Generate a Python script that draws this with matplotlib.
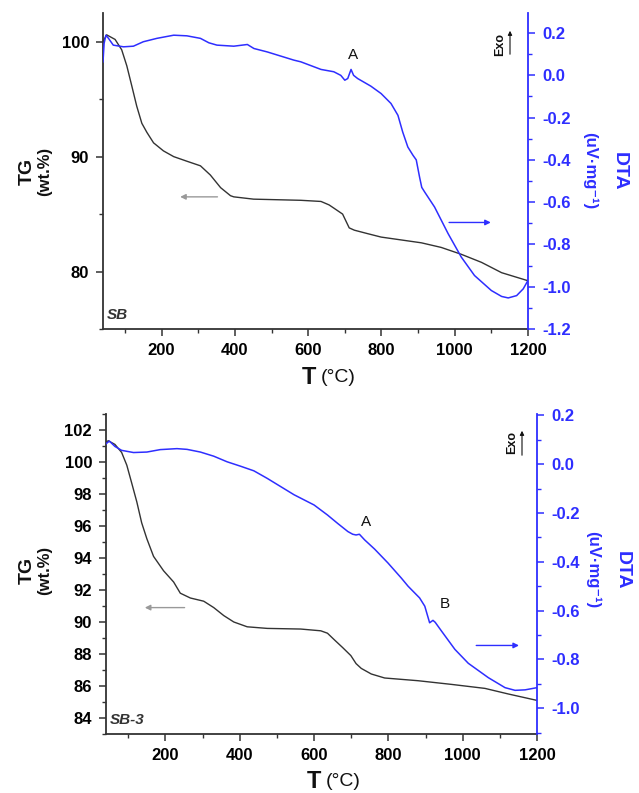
import matplotlib
matplotlib.use("Agg")
import matplotlib.pyplot as plt
from matplotlib.ticker import MultipleLocator, FormatStrFormatter

plt.rcParams['font.family'] = ['Liberation Sans', 'DejaVu Sans']
plt.rcParams['axes.unicode_minus'] = False

# ---------------- data: panel SB ----------------
sb_tg_T = [40, 50, 73, 91, 105, 119, 132, 146, 160, 178, 205, 233, 269, 306, 333, 361, 388, 397, 451,
           580, 635, 657, 671, 694, 703, 712, 726, 762, 799, 909, 963, 1018, 1073, 1128, 1200]
sb_tg = [100.0, 100.6, 100.2, 99.3, 97.9, 96.1, 94.4, 92.9, 92.1, 91.2, 90.5, 90.0, 89.6, 89.2, 88.4,
         87.3, 86.6, 86.5, 86.3, 86.2, 86.1, 85.8, 85.5, 85.0, 84.4, 83.8, 83.6, 83.3, 83.0, 82.5, 82.1,
         81.5, 80.8, 79.9, 79.2]
sb_dta_T = [40, 43, 48, 55, 68, 96, 123, 150, 187, 233, 269, 306, 329, 351, 397, 434, 452, 488, 561, 580,
            635, 670, 689, 700, 708, 717, 724, 735, 771, 799, 826, 845, 858, 872, 886, 895, 904, 910, 918,
            945, 982, 1018, 1054, 1100, 1128, 1146, 1169, 1187, 1200]
sb_dta = [0.064, 0.151, 0.19, 0.175, 0.143, 0.135, 0.138, 0.159, 0.175, 0.19, 0.187, 0.175, 0.154, 0.143,
          0.138, 0.146, 0.127, 0.111, 0.072, 0.064, 0.028, 0.017, 0.0, -0.023, -0.015, 0.028, 0.0, -0.015,
          -0.051, -0.086, -0.133, -0.189, -0.268, -0.339, -0.378, -0.40, -0.481, -0.53, -0.552, -0.623,
          -0.749, -0.86, -0.947, -1.018, -1.046, -1.053, -1.042, -1.01, -0.97]

# ---------------- data: panel SB-3 ----------------
sb3_tg_T = [40, 46, 64, 82, 96, 109, 123, 136, 150, 168, 195, 222, 240, 267, 303, 330, 357, 384, 420, 474,
            564, 618, 636, 654, 677, 699, 713, 727, 754, 790, 880, 970, 1060, 1123, 1200]
sb3_tg = [101.23, 101.33, 101.1, 100.6, 99.8, 98.7, 97.5, 96.2, 95.2, 94.1, 93.2, 92.5, 91.8, 91.5, 91.3,
          90.9, 90.4, 90.0, 89.7, 89.6, 89.56, 89.45, 89.3, 88.9, 88.4, 87.9, 87.4, 87.1, 86.75, 86.5,
          86.33, 86.1, 85.85, 85.5, 85.1]
sb3_dta_T = [40, 49, 64, 82, 114, 150, 186, 231, 258, 294, 330, 366, 402, 438, 474, 546, 600, 636, 663,
             691, 704, 713, 722, 736, 763, 799, 835, 853, 862, 884, 898, 911, 920, 926, 943, 979, 1015, 1069,
             1114, 1141, 1168, 1200]
sb3_dta = [0.084, 0.095, 0.073, 0.057, 0.048, 0.05, 0.06, 0.064, 0.061, 0.05, 0.033, 0.01, -0.008, -0.027,
           -0.058, -0.125, -0.167, -0.208, -0.242, -0.276, -0.287, -0.29, -0.287, -0.31, -0.348, -0.405,
           -0.467, -0.50, -0.514, -0.548, -0.582, -0.65, -0.64, -0.648, -0.684, -0.759, -0.816, -0.875,
           -0.916, -0.927, -0.925, -0.916]

BLUE = '#2e2eff'
DARK = '#333333'
W, H = 639, 793

fig = plt.figure(figsize=(W / 100, H / 100), dpi=100)


def px_rect(l, t, r, b):
    return [l / W, 1 - b / H, (r - l) / W, (b - t) / H]


def make_panel(rect, T_tg, tg, T_dta, dta, tg_lim, tg_major, tg_minor, dta_lim, name):
    ax1 = fig.add_axes(rect)
    ax2 = ax1.twinx()
    ax1.plot(T_tg, tg, color=DARK, lw=1.0, solid_joinstyle='round')
    ax2.plot(T_dta, dta, color=BLUE, lw=1.1, solid_joinstyle='round')
    ax1.set_xlim(40, 1200)
    ax1.set_ylim(*tg_lim)
    ax2.set_ylim(*dta_lim)
    ax1.xaxis.set_major_locator(MultipleLocator(200))
    ax1.xaxis.set_minor_locator(MultipleLocator(100))
    ax1.yaxis.set_major_locator(MultipleLocator(tg_major))
    ax1.yaxis.set_minor_locator(MultipleLocator(tg_minor))
    ax2.yaxis.set_major_locator(MultipleLocator(0.2))
    ax2.yaxis.set_minor_locator(MultipleLocator(0.1))
    ax2.yaxis.set_major_formatter(FormatStrFormatter('%.1f'))
    for a in (ax1, ax2):
        a.spines['top'].set_visible(False)
    ax2.spines['left'].set_visible(False)
    ax2.spines['bottom'].set_visible(False)
    ax1.spines['right'].set_visible(False)
    ax1.spines['left'].set_color(DARK)
    ax1.spines['bottom'].set_color(DARK)
    ax1.spines['left'].set_linewidth(1.3)
    ax1.spines['bottom'].set_linewidth(1.3)
    ax2.spines['right'].set_color(BLUE)
    ax2.spines['right'].set_linewidth(1.3)
    ax1.tick_params(which='major', direction='out', length=5, width=1.1, color=DARK, pad=5,
                    labelsize=12)
    ax1.tick_params(which='minor', direction='out', length=3, width=1.0, color=DARK)
    ax1.tick_params(axis='x', top=False)
    ax2.tick_params(which='major', direction='out', length=5, width=1.1, color=BLUE,
                    labelcolor=BLUE, pad=5, labelsize=12)
    ax2.tick_params(which='minor', direction='out', length=3, width=1.0, color=BLUE)
    for lab in ax1.get_xticklabels() + ax1.get_yticklabels() + ax2.get_yticklabels():
        lab.set_fontweight('bold')
    ax1.text(0.01, 0.022, name, transform=ax1.transAxes, fontsize=11, fontweight='bold',
             fontstyle='italic', color=DARK, ha='left', va='bottom')
    return ax1, ax2


def side_labels(yc, x_tg, x_wt, x_unit, x_dta, y_xl, x_T, x_C):
    fig.text(x_tg / W, 1 - yc / H, 'TG', rotation=90, fontsize=14, fontweight='bold',
             ha='center', va='center', color='#111111')
    fig.text(x_wt / W, 1 - yc / H, '(wt.%)', rotation=90, fontsize=12, fontweight='bold',
             ha='center', va='center', color='#111111')
    fig.text(x_dta / W, 1 - yc / H, 'DTA', rotation=270, fontsize=14, fontweight='bold',
             ha='center', va='center', color=BLUE)
    fig.text(x_unit / W, 1 - yc / H, '(uV·mg⁻¹)', rotation=270, fontsize=12, fontweight='bold',
             ha='center', va='center', color=BLUE)
    fig.text(x_T / W, 1 - y_xl / H, 'T', fontsize=17, fontweight='bold', ha='left', va='center',
             color='#111111')
    fig.text(x_C / W, 1 - y_xl / H, '(°C)', fontsize=14, ha='left', va='center', color='#111111')


def exo(xt, yt, xa, ya0, ya1):
    fig.text(xt / W, 1 - yt / H, 'Exo', rotation=90, fontsize=9, fontweight='bold',
             ha='center', va='center', color='#111111')
    fig.add_artist(matplotlib.patches.FancyArrowPatch(
        (xa / W, 1 - ya0 / H), (xa / W, 1 - ya1 / H), transform=fig.transFigure,
        arrowstyle='-|>', mutation_scale=6, lw=0.8, color='#111111'))


# ---- top panel (SB)
a1, a2 = make_panel(px_rect(103, 13, 528, 329), sb_tg_T, sb_tg, sb_dta_T, sb_dta,
                    (75, 102.5), 10, 5, (-1.2, 0.295), 'SB')
a1.annotate('', xy=(243, 86.5), xytext=(360, 86.5),
            arrowprops=dict(arrowstyle='-|>', color='#999999', lw=1.0, mutation_scale=8))
a2.annotate('', xy=(1106, -0.696), xytext=(977, -0.696),
            arrowprops=dict(arrowstyle='-|>', color=BLUE, lw=1.0, mutation_scale=8))
a2.text(722, 0.095, 'A', fontsize=11, ha='center', va='center', color='#111111')
side_labels(171, 27, 45, 590, 619, 377, 302, 321)
exo(500, 45, 510, 57, 28)

# ---- bottom panel (SB-3)
b1, b2 = make_panel(px_rect(106, 414, 537, 734), sb3_tg_T, sb3_tg, sb3_dta_T, sb3_dta,
                    (83, 103), 2, 1, (-1.106, 0.206), 'SB-3')
b1.annotate('', xy=(137, 90.9), xytext=(259, 90.9),
            arrowprops=dict(arrowstyle='-|>', color='#999999', lw=1.0, mutation_scale=8))
b2.annotate('', xy=(1159, -0.743), xytext=(1029, -0.743),
            arrowprops=dict(arrowstyle='-|>', color=BLUE, lw=1.0, mutation_scale=8))
b2.text(740, -0.237, 'A', fontsize=11, ha='center', va='center', color='#111111')
b2.text(951, -0.575, 'B', fontsize=11, ha='center', va='center', color='#111111')
side_labels(570, 27, 45, 593, 622, 782, 307, 326)
exo(512, 443, 522, 458, 428)

fig.savefig('out.png', dpi=100)
